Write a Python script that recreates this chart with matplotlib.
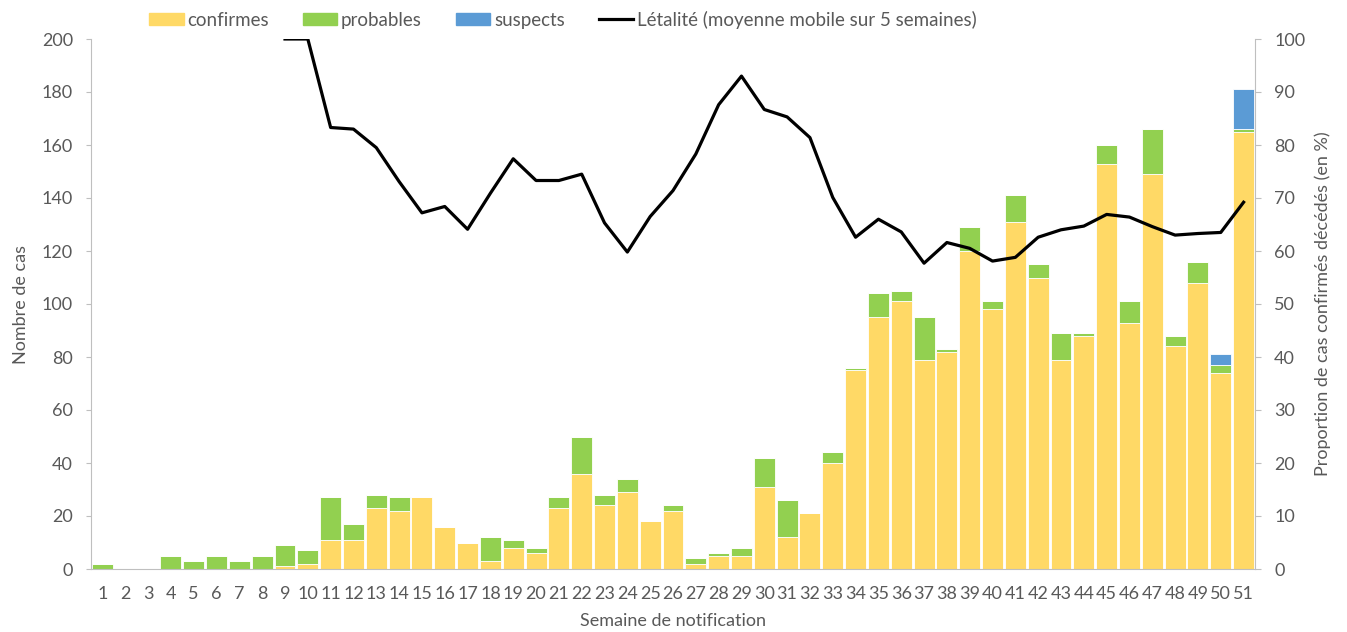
import numpy as np
import matplotlib
matplotlib.use("Agg")
import matplotlib.pyplot as plt
from matplotlib.patches import Patch
from matplotlib.lines import Line2D

plt.rcParams['font.family'] = ['Lato', 'DejaVu Sans']

weeks = list(range(1, 52))
confirmes = [0, 0, 0, 0, 0, 0, 0, 0, 1, 2,
             11, 11, 23, 22, 27, 16, 10, 3, 8, 6,
             23, 36, 24, 29, 18, 22, 2, 5, 5, 31,
             12, 21, 40, 75, 95, 101, 79, 82, 120, 98,
             131, 110, 79, 88, 153, 93, 149, 84, 108, 74,
             165]
probables = [2, 0, 0, 5, 3, 5, 3, 5, 8, 5,
             16, 6, 5, 5, 0, 0, 0, 9, 3, 2,
             4, 14, 4, 5, 0, 2, 2, 1, 3, 11,
             14, 0, 4, 1, 9, 4, 16, 1, 9, 3,
             10, 5, 10, 1, 7, 8, 17, 4, 8, 3,
             1]
suspects = [0] * 49 + [4, 15]
letalite = [np.nan] * 8 + [100, 100,
            83.3, 83.0, 79.5, 73.1, 67.2, 68.4, 64.1, 70.9, 77.4, 73.3,
            73.3, 74.5, 65.3, 59.8, 66.5, 71.4, 78.3, 87.6, 93.0, 86.7,
            85.3, 81.4, 70.1, 62.6, 66.0, 63.6, 57.7, 61.6, 60.5, 58.1,
            58.8, 62.6, 64.0, 64.7, 66.9, 66.4, 64.6, 63.0, 63.3, 63.5,
            69.2]

c_conf = '#FFD966'
c_prob = '#92D050'
c_susp = '#5B9BD5'
gray = '#595959'
spine = '#BFBFBF'
fs = 13

fig = plt.figure(figsize=(13.47, 6.32), dpi=100)
ax = fig.add_axes([91/1347, 63/632, 1164/1347, 530/632])
x = np.array(weeks)
conf = np.array(confirmes)
prob = np.array(probables)
susp = np.array(suspects)
w = 0.92
ax.bar(x, conf, width=w, color=c_conf, edgecolor='white', linewidth=0.6)
ax.bar(x, prob, width=w, bottom=conf, color=c_prob, edgecolor='white', linewidth=0.6)
ax.bar(x, susp, width=w, bottom=conf + prob, color=c_susp, edgecolor='white', linewidth=0.6)
ax.set_xlim(0.5, 51.5)
ax.set_ylim(0, 200)
ax.set_yticks(range(0, 201, 20))
ax.set_xticks(weeks)
ax.set_xticklabels([str(v) for v in weeks])

ax2 = ax.twinx()
ax2.plot(x, letalite, color='black', linewidth=2.3)
ax2.set_ylim(0, 100)
ax2.set_yticks(range(0, 101, 10))

for a in (ax, ax2):
    for s in a.spines.values():
        s.set_visible(False)
ax.spines['left'].set_visible(True)
ax.spines['left'].set_color(spine)
ax.spines['bottom'].set_visible(True)
ax.spines['bottom'].set_color(spine)
ax2.spines['right'].set_visible(True)
ax2.spines['right'].set_color(spine)

ax.tick_params(axis='y', colors=gray, labelsize=fs, length=3.8, color=spine, pad=9.2)
ax.tick_params(axis='x', colors=gray, labelsize=fs, length=0, pad=12)
ax2.tick_params(axis='y', colors=gray, labelsize=fs, length=4.2, color=spine, pad=9.5)
for t in ax.get_yticklabels() + ax.get_xticklabels() + ax2.get_yticklabels():
    t.set_color(gray)

ax.set_ylabel('Nombre de cas', color=gray, fontsize=fs, labelpad=9)
ax2.set_ylabel('Proportion de cas confirmés décédés (en %)', color=gray, fontsize=fs, labelpad=7)
ax.set_xlabel('Semaine de notification', color=gray, fontsize=fs, labelpad=8)

handles = [Patch(color=c_conf, label='confirmes'),
           Patch(color=c_prob, label='probables'),
           Patch(color=c_susp, label='suspects'),
           Line2D([0], [0], color='black', linewidth=2.3,
                  label='Létalité (moyenne mobile sur 5 semaines)')]
leg = fig.legend(handles=handles, loc='upper left', bbox_to_anchor=(132/1347, 1.01),
                 ncol=4, frameon=False, fontsize=13.5, handlelength=1.85, handleheight=0.6,
                 handletextpad=0.2, columnspacing=1.8)
for t in leg.get_texts():
    t.set_color(gray)

fig.savefig('out.png', dpi=100)
